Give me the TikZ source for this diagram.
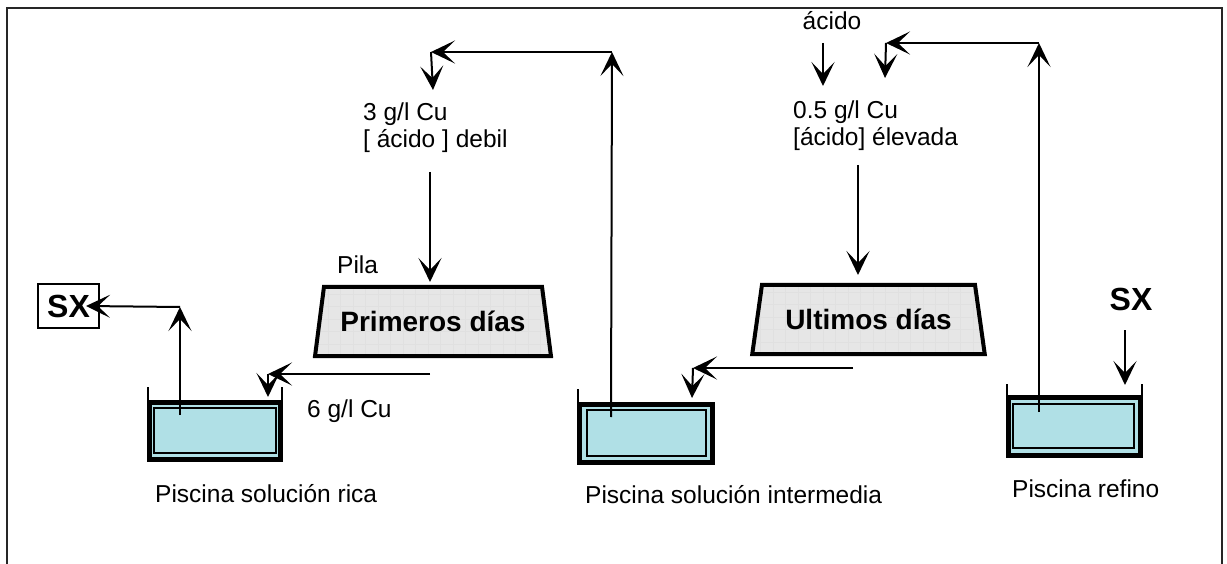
\documentclass[tikz,border=0pt]{standalone}
\usepackage{fontspec}
\setmainfont{Liberation Sans}
\usetikzlibrary{arrows.meta,shapes.geometric,calc}
\definecolor{tankblue}{HTML}{B0E0E6}
\definecolor{pilegray}{HTML}{E6E6E6}
\begin{document}
\begin{tikzpicture}[x=1pt,y=-1pt,
  conn/.style={line width=2pt,-{Stealth[length=24pt,width=23pt,inset=12pt]}},
  plain/.style={line width=2pt},
  tankouter/.style={draw,line width=5pt,fill=tankblue,inner sep=0pt},
  tankinner/.style={draw,line width=2.2pt,inner sep=0pt},
  pile/.style={trapezium,draw,line width=4pt,fill=pilegray,trapezium stretches=true,
    trapezium left angle=70,trapezium right angle=70,inner sep=0pt,
    font=\bfseries\fontsize{28}{32}\selectfont,
    path picture={\draw[black!12,line width=0.5pt] (path picture bounding box.south west) grid[step=12.5pt] (path picture bounding box.north east);}},
  lbl/.style={inner sep=0pt,font=\fontsize{24.5}{27}\selectfont},
  sxlbl/.style={inner sep=0pt,font=\bfseries\fontsize{32}{36}\selectfont},
]
\useasboundingbox (0,0) rectangle (1227,564);
% frame
\draw[line width=2.5pt,black!85] (7,564) -- (7,8) -- (1222,8) -- (1222,564);

% tanks
\node[tankouter,minimum width=131,minimum height=57] (t1) at (215,431) {};
\node[tankinner,minimum width=121.5,minimum height=45] (t1i) at (215,430.5) {};
\node[tankouter,minimum width=133,minimum height=58] (t2) at (646,433.5) {};
\node[tankinner,minimum width=119,minimum height=46] (t2i) at (646.5,433) {};
\node[tankouter,minimum width=132,minimum height=58] (t3) at (1074.5,426.5) {};
\node[tankinner,minimum width=121,minimum height=44] (t3i) at (1073.5,426) {};
\draw[plain] ([xshift=1pt]t1.north west) -- ++(0,-13);
\draw[plain] ([xshift=-1pt]t1.north east) -- ++(0,-13);
\draw[plain] ([xshift=1pt]t2.north west) -- ++(0,-13);
\draw[plain] ([xshift=1pt]t3.north west) -- ++(0,-11);
\draw[plain] ([xshift=-1pt]t3.north east) -- ++(0,-11);

% tank labels
\node[lbl,anchor=base west] (l1) at (155,502) {Piscina solución rica};
\node[lbl,anchor=base west] (l2) at (585,503) {Piscina solución intermedia};
\node[lbl,anchor=base west] (l3) at (1012,497) {Piscina refino};

% piles
\node[pile,minimum width=236,minimum height=69] (p1) at (433,321.5) {Primeros días};
\node[pile,minimum width=233,minimum height=69] (p2) at (868.5,319.5) {Ultimos días};
\node[lbl,anchor=base west] (pila) at (337,274) {Pila};

% SX boxes
\node[sxlbl,draw,line width=2pt,minimum width=61,minimum height=44] (sx1) at (68.5,306) {SX};
\node[sxlbl,anchor=base] (sx2) at (1131,310) {SX};

% texts
\node[lbl,anchor=north west,align=left] (txt1) at (363,103) {3 g/l Cu\\{[} ácido ] debil};
\node[lbl,anchor=north west,align=left] (txt2) at (793,101) {0.5 g/l Cu\\{[}ácido] élevada};
\node[lbl,anchor=base] (acid) at (832,30) {ácido};
\node[lbl,anchor=base west] (cu6) at (307,417) {6 g/l Cu};

% coordinates
\coordinate (s1) at (180,415);
\coordinate (c1) at (180,307);
\coordinate (e1) at (430,374);
\coordinate (c2) at (268,374);
\coordinate (d2) at (268,397);
\coordinate (s2) at (611,417);
\coordinate (c3) at (612,52);
\coordinate (c4) at (431,52);
\coordinate (d4) at (433,90);
\coordinate (s5) at (430,172);
\coordinate (e5) at (430,282);
\coordinate (e6) at (853,368);
\coordinate (c6) at (693,368);
\coordinate (d6) at (692,398);
\coordinate (s7) at (858,165);
\coordinate (e7) at (858,275);
\coordinate (s8) at (823,43);
\coordinate (e8) at (823,86);
\coordinate (s9) at (1039,412);
\coordinate (c9) at (1039,43);
\coordinate (c10) at (886,43);
\coordinate (d10) at (885,78);
\coordinate (s11) at (1125,330);
\coordinate (e11) at (1125,385);

% connectors
\draw[conn] (s1) -- (c1);
\draw[conn] (c1) -- ([xshift=-14pt]sx1.east);
\draw[conn] (e1) -- (c2);
\draw[conn] (c2) -- (d2);
\draw[conn] (s2) -- (c3);
\draw[conn] (c3) -- (c4);
\draw[conn] (c4) -- (d4);
\draw[conn] (s5) -- (e5);
\draw[conn] (e6) -- (c6);
\draw[conn] (c6) -- (d6);
\draw[conn] (s7) -- (e7);
\draw[conn] (s8) -- (e8);
\draw[conn] (s9) -- (c9);
\draw[conn] (c9) -- (c10);
\draw[conn] (c10) -- (d10);
\draw[conn] (s11) -- (e11);
\end{tikzpicture}
\end{document}
